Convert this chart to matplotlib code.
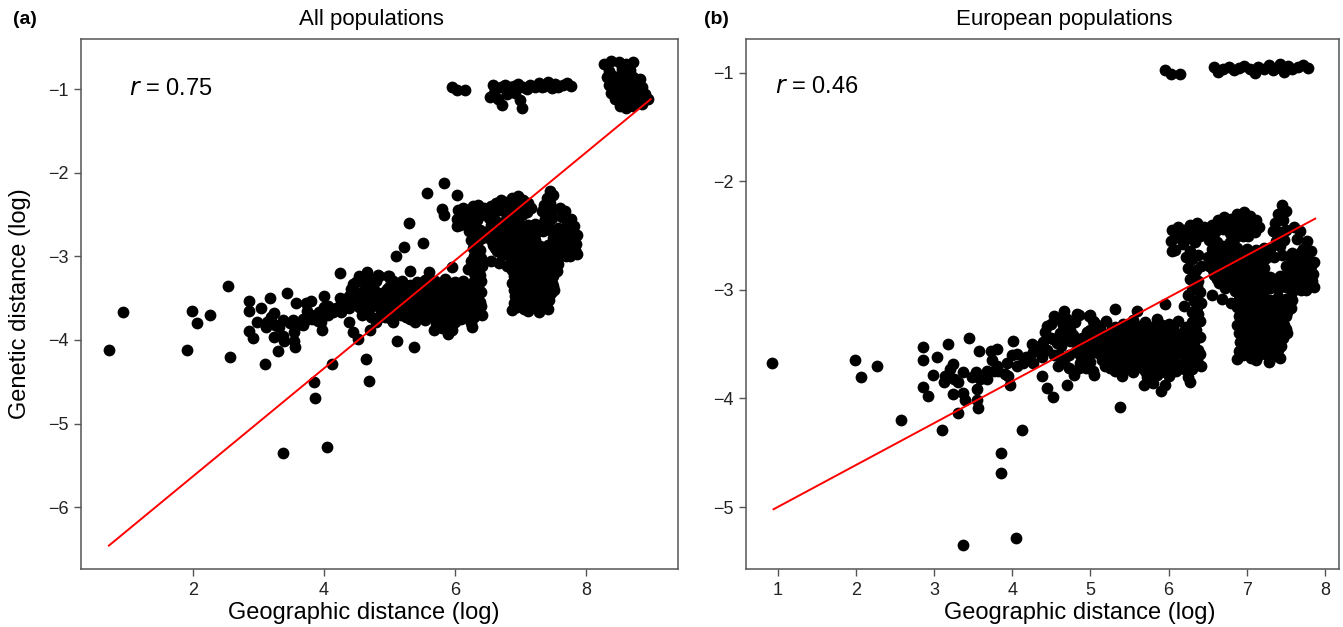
import numpy as np
import matplotlib.pyplot as plt

plt.rcParams['font.family'] = ['Liberation Sans Narrow', 'Liberation Sans', 'DejaVu Sans']

# european pairs (shown in both panels): log geographic vs log genetic distance
eu_sparse = [(0.93,-3.67),(1.99,-3.65),(2.07,-3.80),(2.27,-3.70),(2.57,-4.20),(3.10,-4.29),(3.37,-5.35),
    (3.85,-4.50),(3.86,-4.69),(4.05,-5.28),(4.13,-4.29),(5.38,-4.08),
    (2.86,-3.53),(2.86,-3.65),(3.04,-3.62),(3.18,-3.50),(2.98,-3.78),(2.86,-3.89),(2.92,-3.98),(3.24,-3.68),
    (3.20,-3.73),(3.14,-3.79),(3.12,-3.85),(3.26,-3.82),(3.31,-3.85),(3.37,-3.76),(3.24,-3.96),(3.37,-3.95),
    (3.39,-4.01),(3.44,-3.44),(3.30,-4.13),(3.53,-3.76),(3.49,-3.80),(3.55,-3.91),(3.55,-4.01),(3.56,-4.09),
    (3.57,-3.56),(3.59,-3.82),(3.68,-3.75),(3.68,-3.82),(3.73,-3.56),(3.80,-3.54),(3.74,-3.65),(3.80,-3.70),
    (3.76,-3.75),(3.82,-3.75),(3.93,-3.67),(3.95,-3.79),(3.97,-3.88),(4.01,-3.47),(4.06,-3.59),(4.06,-3.70),
    (4.14,-3.67),(4.18,-3.62),(4.25,-3.50),(4.27,-3.57),(4.27,-3.67),(4.35,-3.52),(4.38,-3.62),(4.38,-3.79),
    (4.44,-3.90),(4.52,-3.99),(4.42,-3.39),(4.44,-3.33),(4.53,-3.24),(4.66,-3.19),(4.70,-3.27),(4.57,-3.27),
    (4.49,-3.44),(4.57,-3.49),(4.61,-3.40),(4.74,-3.37),(4.85,-3.23),(4.99,-3.23),(5.03,-3.29),(4.66,-3.65),
    (4.72,-3.60),(4.72,-3.72),(4.79,-3.78),(4.70,-3.88),(4.83,-3.49),(4.89,-3.44),(4.96,-3.39),(5.00,-3.50),
    (4.87,-3.60),(5.00,-3.66),(5.03,-3.75),(5.03,-3.57),(5.08,-3.41),
    (4.30,-3.55),(4.39,-3.48),(4.49,-3.31),(4.52,-3.45),(4.54,-3.60),(4.62,-3.52),(4.72,-3.38),(4.74,-3.47),
    (4.83,-3.22),(4.98,-3.24),(5.11,-3.33),(4.81,-3.56),(4.87,-3.67),(4.96,-3.58),(4.94,-3.72),(5.05,-3.78),
    (5.18,-3.70),(5.32,-3.18),(5.60,-3.19),(5.35,-3.72),(5.96,-3.13),(6.04,-2.64),(3.91,-3.77),(4.00,-3.60),
    (4.45,-3.55),(4.60,-3.60),(4.65,-3.45),(4.78,-3.42),(4.80,-3.30),(4.90,-3.52),(4.92,-3.62),(4.85,-3.72),
    (4.58,-3.70),(4.65,-3.32)]

eu_dense = [(5.05,-3.30),(5.20,-3.29),(5.42,-3.31),(5.55,-3.28),(5.70,-3.30),(5.85,-3.27),(6.00,-3.31),(6.12,-3.29),(6.30,-3.30),
    (5.00,-3.37),(5.12,-3.38),(5.28,-3.36),(5.38,-3.38),(5.50,-3.37),(5.63,-3.36),(5.78,-3.38),(5.90,-3.37),(6.05,-3.36),(6.20,-3.38),(6.35,-3.37),
    (4.97,-3.44),(5.10,-3.45),(5.22,-3.43),(5.33,-3.44),(5.47,-3.45),(5.60,-3.43),(5.72,-3.44),(5.86,-3.45),(5.97,-3.43),(6.10,-3.44),(6.25,-3.45),(6.40,-3.43),
    (5.05,-3.51),(5.18,-3.52),(5.30,-3.50),(5.43,-3.51),(5.55,-3.52),(5.68,-3.50),(5.80,-3.51),(5.93,-3.52),(6.05,-3.50),(6.18,-3.51),(6.32,-3.52),
    (5.10,-3.58),(5.23,-3.59),(5.36,-3.57),(5.50,-3.58),(5.62,-3.59),(5.75,-3.57),(5.88,-3.58),(6.00,-3.59),(6.14,-3.57),(6.28,-3.58),(6.40,-3.59),
    (5.15,-3.65),(5.30,-3.66),(5.42,-3.64),(5.56,-3.65),(5.70,-3.66),(5.82,-3.64),(5.95,-3.65),(6.08,-3.66),(6.22,-3.64),(6.36,-3.65),
    (5.25,-3.72),(5.48,-3.73),(5.62,-3.71),(5.78,-3.72),(5.90,-3.73),(6.03,-3.71),(6.17,-3.72),(6.30,-3.73),
    (5.40,-3.79),(5.72,-3.80),(5.85,-3.78),(6.00,-3.79),(6.25,-3.80),
    (5.69,-3.88),(5.90,-3.93),(5.95,-3.88),(5.80,-3.86),(6.27,-3.85),(6.41,-3.70),(6.40,-3.29),
    (5.12,-3.33),(5.32,-3.34),(5.48,-3.32),(5.62,-3.33),(5.78,-3.34),(5.92,-3.32),(6.06,-3.33),(6.22,-3.34),
    (5.06,-3.40),(5.20,-3.41),(5.45,-3.40),(5.56,-3.39),(5.70,-3.41),(5.84,-3.40),(5.98,-3.39),(6.14,-3.41),(6.30,-3.40),
    (5.02,-3.47),(5.16,-3.48),(5.28,-3.47),(5.40,-3.46),(5.54,-3.48),(5.66,-3.47),(5.80,-3.46),(5.92,-3.48),(6.04,-3.47),(6.18,-3.46),(6.32,-3.48),
    (5.12,-3.54),(5.24,-3.55),(5.37,-3.54),(5.49,-3.53),(5.62,-3.55),(5.74,-3.54),(5.86,-3.53),(6.00,-3.55),(6.12,-3.54),(6.25,-3.53),(6.38,-3.55),
    (5.17,-3.61),(5.30,-3.62),(5.44,-3.61),(5.56,-3.60),(5.69,-3.62),(5.82,-3.61),(5.94,-3.60),(6.07,-3.62),(6.21,-3.61),(6.34,-3.60),
    (5.22,-3.68),(5.36,-3.69),(5.50,-3.68),(5.64,-3.67),(5.76,-3.69),(5.88,-3.68),(6.02,-3.67),(6.15,-3.69),(6.29,-3.68),
    (5.32,-3.75),(5.55,-3.76),(5.70,-3.75),(5.84,-3.74),(5.96,-3.76),(6.10,-3.75),(6.22,-3.74)]

eu_upper = [(6.05,-2.45),(6.12,-2.42),(6.20,-2.45),(6.28,-2.40),(6.36,-2.38),(6.45,-2.42),(6.55,-2.40),(6.63,-2.36),
    (6.71,-2.33),(6.80,-2.35),(6.88,-2.30),(6.96,-2.28),(7.04,-2.32),(7.12,-2.36),(7.16,-2.42),(6.03,-2.55),(6.08,-2.63),
    (6.15,-2.52),(6.28,-2.52),(6.40,-2.50),(6.60,-2.47),(6.70,-2.44),(6.78,-2.48),(6.86,-2.42),(6.94,-2.38),(7.02,-2.42),
    (7.10,-2.47),(6.62,-2.56),(6.70,-2.60),(6.85,-2.52),(6.95,-2.50),
    (6.10,-2.48),(6.24,-2.48),(6.32,-2.45),(6.50,-2.46),(6.66,-2.40),(6.76,-2.40),(6.92,-2.33),(7.00,-2.36),(7.08,-2.40),
    (6.18,-2.58),(6.34,-2.56),(6.52,-2.54),(6.78,-2.56),(6.90,-2.46),(7.02,-2.50),
    (6.22,-2.70),(6.30,-2.72),(6.38,-2.68),(6.25,-2.80),(6.35,-2.82),(6.42,-2.78),(6.28,-2.90),(6.38,-2.92),(6.30,-3.00),
    (6.40,-3.02),(6.33,-3.10),(6.42,-3.12),(6.30,-3.20),(6.38,-3.22),(6.35,-3.28),(6.20,-3.15),(6.25,-3.05),
    (6.28,-2.64),(6.32,-2.86),(6.36,-2.96),(6.36,-3.16),
    (6.55,-2.62),(6.72,-2.63),(6.88,-2.61),(7.00,-2.62),(7.12,-2.63),(7.22,-2.61),
    (6.50,-2.70),(6.60,-2.71),(6.70,-2.69),(6.80,-2.70),(6.92,-2.71),(7.04,-2.69),(7.15,-2.70),(7.25,-2.71),(7.55,-2.70),(7.65,-2.69),(7.75,-2.71),
    (6.52,-2.78),(6.62,-2.79),(6.75,-2.77),(6.85,-2.78),(6.95,-2.79),(7.05,-2.77),(7.15,-2.78),(7.22,-2.80),(7.50,-2.78),(7.60,-2.79),(7.72,-2.77),(7.82,-2.78),
    (6.58,-2.86),(6.68,-2.87),(6.80,-2.85),(6.90,-2.86),(7.00,-2.87),(7.10,-2.85),(7.20,-2.86),(7.30,-2.88),(7.42,-2.87),(7.52,-2.85),(7.62,-2.86),(7.75,-2.87),(7.85,-2.85),
    (6.65,-2.94),(6.78,-2.95),(6.92,-2.93),(7.02,-2.94),(7.12,-2.95),(7.25,-2.93),(7.35,-2.94),(7.45,-2.95),(7.55,-2.93),(7.68,-2.94),(7.80,-2.95),
    (6.85,-3.01),(6.97,-3.02),(7.10,-3.00),(7.22,-3.01),(7.58,-3.02),(7.70,-3.00),
    (6.60,-2.66),(6.78,-2.66),(6.95,-2.67),(7.08,-2.65),(7.20,-2.66),(7.58,-2.66),(7.70,-2.65),
    (6.55,-2.74),(6.65,-2.74),(6.76,-2.73),(6.88,-2.75),(6.98,-2.74),(7.10,-2.73),(7.20,-2.74),(7.60,-2.74),(7.70,-2.75),(7.80,-2.73),
    (6.57,-2.82),(6.70,-2.82),(6.80,-2.81),(6.90,-2.83),(7.00,-2.82),(7.10,-2.81),(7.56,-2.82),(7.66,-2.83),(7.78,-2.82),
    (6.62,-2.90),(6.74,-2.91),(6.86,-2.90),(6.96,-2.89),(7.06,-2.91),(7.16,-2.90),(7.26,-2.91),(7.38,-2.90),(7.48,-2.91),(7.58,-2.89),(7.70,-2.90),(7.82,-2.91),
    (6.72,-2.98),(6.86,-2.97),(6.98,-2.98),(7.06,-2.99),(7.18,-2.97),(7.30,-2.98),(7.40,-2.99),(7.50,-2.97),(7.62,-2.98),(7.74,-2.97),
    (7.30,-2.62),(7.42,-2.60),(7.45,-2.68),(7.35,-2.70),
    (7.45,-2.22),(7.50,-2.27),(7.40,-2.30),(7.36,-2.38),(7.46,-2.36),(7.33,-2.46),(7.42,-2.47),(7.50,-2.45),(7.38,-2.55),(7.48,-2.54),
    (7.60,-2.42),(7.68,-2.46),(7.64,-2.53),(7.77,-2.55),(7.72,-2.62),(7.82,-2.64),(7.86,-2.74),(7.84,-2.92),(7.86,-2.97),(7.76,-3.00)]

eu_column = [(6.90,-3.08),(7.00,-3.09),(7.10,-3.07),(7.20,-3.08),(7.30,-3.09),(7.40,-3.07),(7.50,-3.08),(7.58,-3.09),
    (6.88,-3.16),(6.98,-3.17),(7.08,-3.15),(7.18,-3.16),(7.28,-3.17),(7.38,-3.15),(7.48,-3.16),(7.56,-3.17),
    (6.90,-3.24),(7.00,-3.25),(7.10,-3.23),(7.20,-3.24),(7.30,-3.25),(7.40,-3.23),(7.50,-3.24),
    (6.88,-3.32),(6.98,-3.33),(7.08,-3.31),(7.18,-3.32),(7.28,-3.33),(7.38,-3.31),(7.48,-3.32),
    (6.90,-3.40),(7.00,-3.41),(7.12,-3.39),(7.22,-3.40),(7.32,-3.41),(7.42,-3.39),(7.52,-3.40),
    (6.92,-3.48),(7.02,-3.49),(7.12,-3.47),(7.22,-3.48),(7.32,-3.49),(7.42,-3.47),
    (6.90,-3.56),(7.00,-3.57),(7.10,-3.55),(7.20,-3.56),(7.30,-3.57),(7.40,-3.55),
    (6.88,-3.64),(7.05,-3.63),(7.12,-3.65),(7.28,-3.66),(7.42,-3.63),
    (6.95,-3.12),(7.05,-3.12),(7.15,-3.11),(7.25,-3.13),(7.35,-3.12),(7.45,-3.11),(7.54,-3.12),
    (6.93,-3.20),(7.03,-3.21),(7.13,-3.20),(7.23,-3.19),(7.33,-3.21),(7.43,-3.20),(7.52,-3.20),
    (6.95,-3.28),(7.05,-3.29),(7.15,-3.28),(7.25,-3.27),(7.35,-3.29),(7.45,-3.28),
    (6.93,-3.36),(7.03,-3.37),(7.13,-3.36),(7.23,-3.35),(7.33,-3.37),(7.43,-3.36),(7.50,-3.36),
    (6.95,-3.44),(7.06,-3.45),(7.17,-3.44),(7.27,-3.43),(7.37,-3.45),(7.47,-3.44),
    (6.96,-3.52),(7.06,-3.53),(7.16,-3.52),(7.26,-3.51),(7.36,-3.53),(7.44,-3.52),
    (6.95,-3.60),(7.05,-3.61),(7.16,-3.60),(7.25,-3.59),(7.35,-3.61),
    (6.55,-3.05),(6.68,-3.08),(6.80,-3.12)]

eu_top = [(5.95,-0.98),(6.03,-1.01),(6.15,-1.01),
    (6.58,-0.95),(6.63,-0.99),(6.70,-0.97),(6.77,-0.95),(6.84,-0.98),(6.90,-0.96),(6.97,-0.94),(7.04,-0.97),
    (7.10,-1.00),(7.15,-0.95),(7.22,-0.97),(7.28,-0.93),(7.33,-0.98),(7.38,-0.96),(7.43,-0.92),(7.48,-0.99),
    (7.53,-0.94),(7.58,-0.97),(7.65,-0.95),(7.72,-0.93),(7.78,-0.96)]

# non-european pairs (only in panel a)
other = [(0.72,-4.12),(1.91,-4.12),(2.54,-3.35),(4.64,-4.23),(4.69,-4.49),(5.12,-4.01),(4.24,-3.20),
    (5.84,-2.12),(5.57,-2.24),(6.03,-2.27),(5.80,-2.43),(5.84,-2.50),(5.30,-2.60),(5.51,-2.84),(5.22,-2.89),(5.11,-3.00),
    (6.54,-1.09),(6.60,-1.04),(6.72,-1.19),(6.66,-1.12),(6.80,-1.06),(7.00,-1.13),(7.02,-1.23),(6.92,-1.05),
    (8.28,-0.70),(8.38,-0.66),(8.50,-0.68),(8.62,-0.70),(8.72,-0.68),(8.35,-0.78),(8.55,-0.76),(8.68,-0.77),
    (8.32,-0.86),(8.42,-0.84),(8.52,-0.86),(8.62,-0.85),(8.72,-0.86),(8.82,-0.88),
    (8.35,-0.95),(8.45,-0.94),(8.55,-0.96),(8.65,-0.94),(8.75,-0.96),(8.85,-0.97),
    (8.38,-1.04),(8.48,-1.03),(8.58,-1.05),(8.68,-1.03),(8.78,-1.05),(8.90,-1.06),(8.95,-1.12),
    (8.45,-1.12),(8.55,-1.14),(8.65,-1.12),(8.75,-1.15),(8.85,-1.13),
    (8.52,-1.20),(8.62,-1.22),(8.72,-1.20),(8.85,-1.18)]

# regression lines (end points of fitted line)
fit_all_x = [0.72, 8.99]
fit_all_y = [-6.46, -1.12]
fit_eu_x = [0.945, 7.876]
fit_eu_y = [-5.02, -2.344]

r_all = 0.75
r_eu = 0.46

eu = np.array(eu_sparse + eu_dense + eu_upper + eu_column + eu_top)
allp = np.vstack([eu, np.array(other)])

fig = plt.figure(figsize=(13.43, 6.27), dpi=100)
ax1 = fig.add_axes([0.0606, 0.0925, 0.4439, 0.8453])
ax2 = fig.add_axes([0.5553, 0.0925, 0.4417, 0.8453])

def style(ax):
    for s in ['top', 'right', 'bottom', 'left']:
        ax.spines[s].set_color('#555555')
        ax.spines[s].set_linewidth(1.1)
    ax.tick_params(axis='both', direction='out', length=5, width=1.0, color='#555555',
                   labelsize=13, labelcolor='#222222', pad=4)

ax1.scatter(allp[:, 0], allp[:, 1], s=72, c='black', linewidths=0)
ax1.plot(fit_all_x, fit_all_y, color='red', lw=1.4)
ax1.set_xlim(0.30, 9.40)
ax1.set_ylim(-6.74, -0.40)
ax1.set_xticks([2, 4, 6, 8])
ax1.set_yticks([-1, -2, -3, -4, -5, -6])
style(ax1)
ax1.set_xlabel('Geographic distance (log)', fontsize=17)
ax1.xaxis.set_label_coords(0.473, -0.062)
ax1.set_ylabel('Genetic distance (log)', fontsize=17)
ax1.yaxis.set_label_coords(-0.085, 0.5)
ax1.text(0.487, 1.036, 'All populations', transform=ax1.transAxes, ha='center', va='center', fontsize=16)
ax1.text(-0.115, 1.036, '(a)', transform=ax1.transAxes, ha='left', va='center', fontsize=14, fontweight='bold')
ax1.text(0.08, 0.906, '$r$ = %.2f' % r_all, transform=ax1.transAxes, ha='left', va='center', fontsize=17)

ax2.scatter(eu[:, 0], eu[:, 1], s=72, c='black', linewidths=0)
ax2.plot(fit_eu_x, fit_eu_y, color='red', lw=1.4)
ax2.set_xlim(0.59, 8.18)
ax2.set_ylim(-5.57, -0.69)
ax2.set_xticks([1, 2, 3, 4, 5, 6, 7, 8])
ax2.set_yticks([-1, -2, -3, -4, -5])
style(ax2)
ax2.set_xlabel('Geographic distance (log)', fontsize=17)
ax2.xaxis.set_label_coords(0.563, -0.062)
ax2.text(0.537, 1.036, 'European populations', transform=ax2.transAxes, ha='center', va='center', fontsize=16)
ax2.text(-0.07, 1.036, '(b)', transform=ax2.transAxes, ha='left', va='center', fontsize=14, fontweight='bold')
ax2.text(0.05, 0.909, '$r$ = %.2f' % r_eu, transform=ax2.transAxes, ha='left', va='center', fontsize=17)

fig.savefig('out.png', dpi=100)
